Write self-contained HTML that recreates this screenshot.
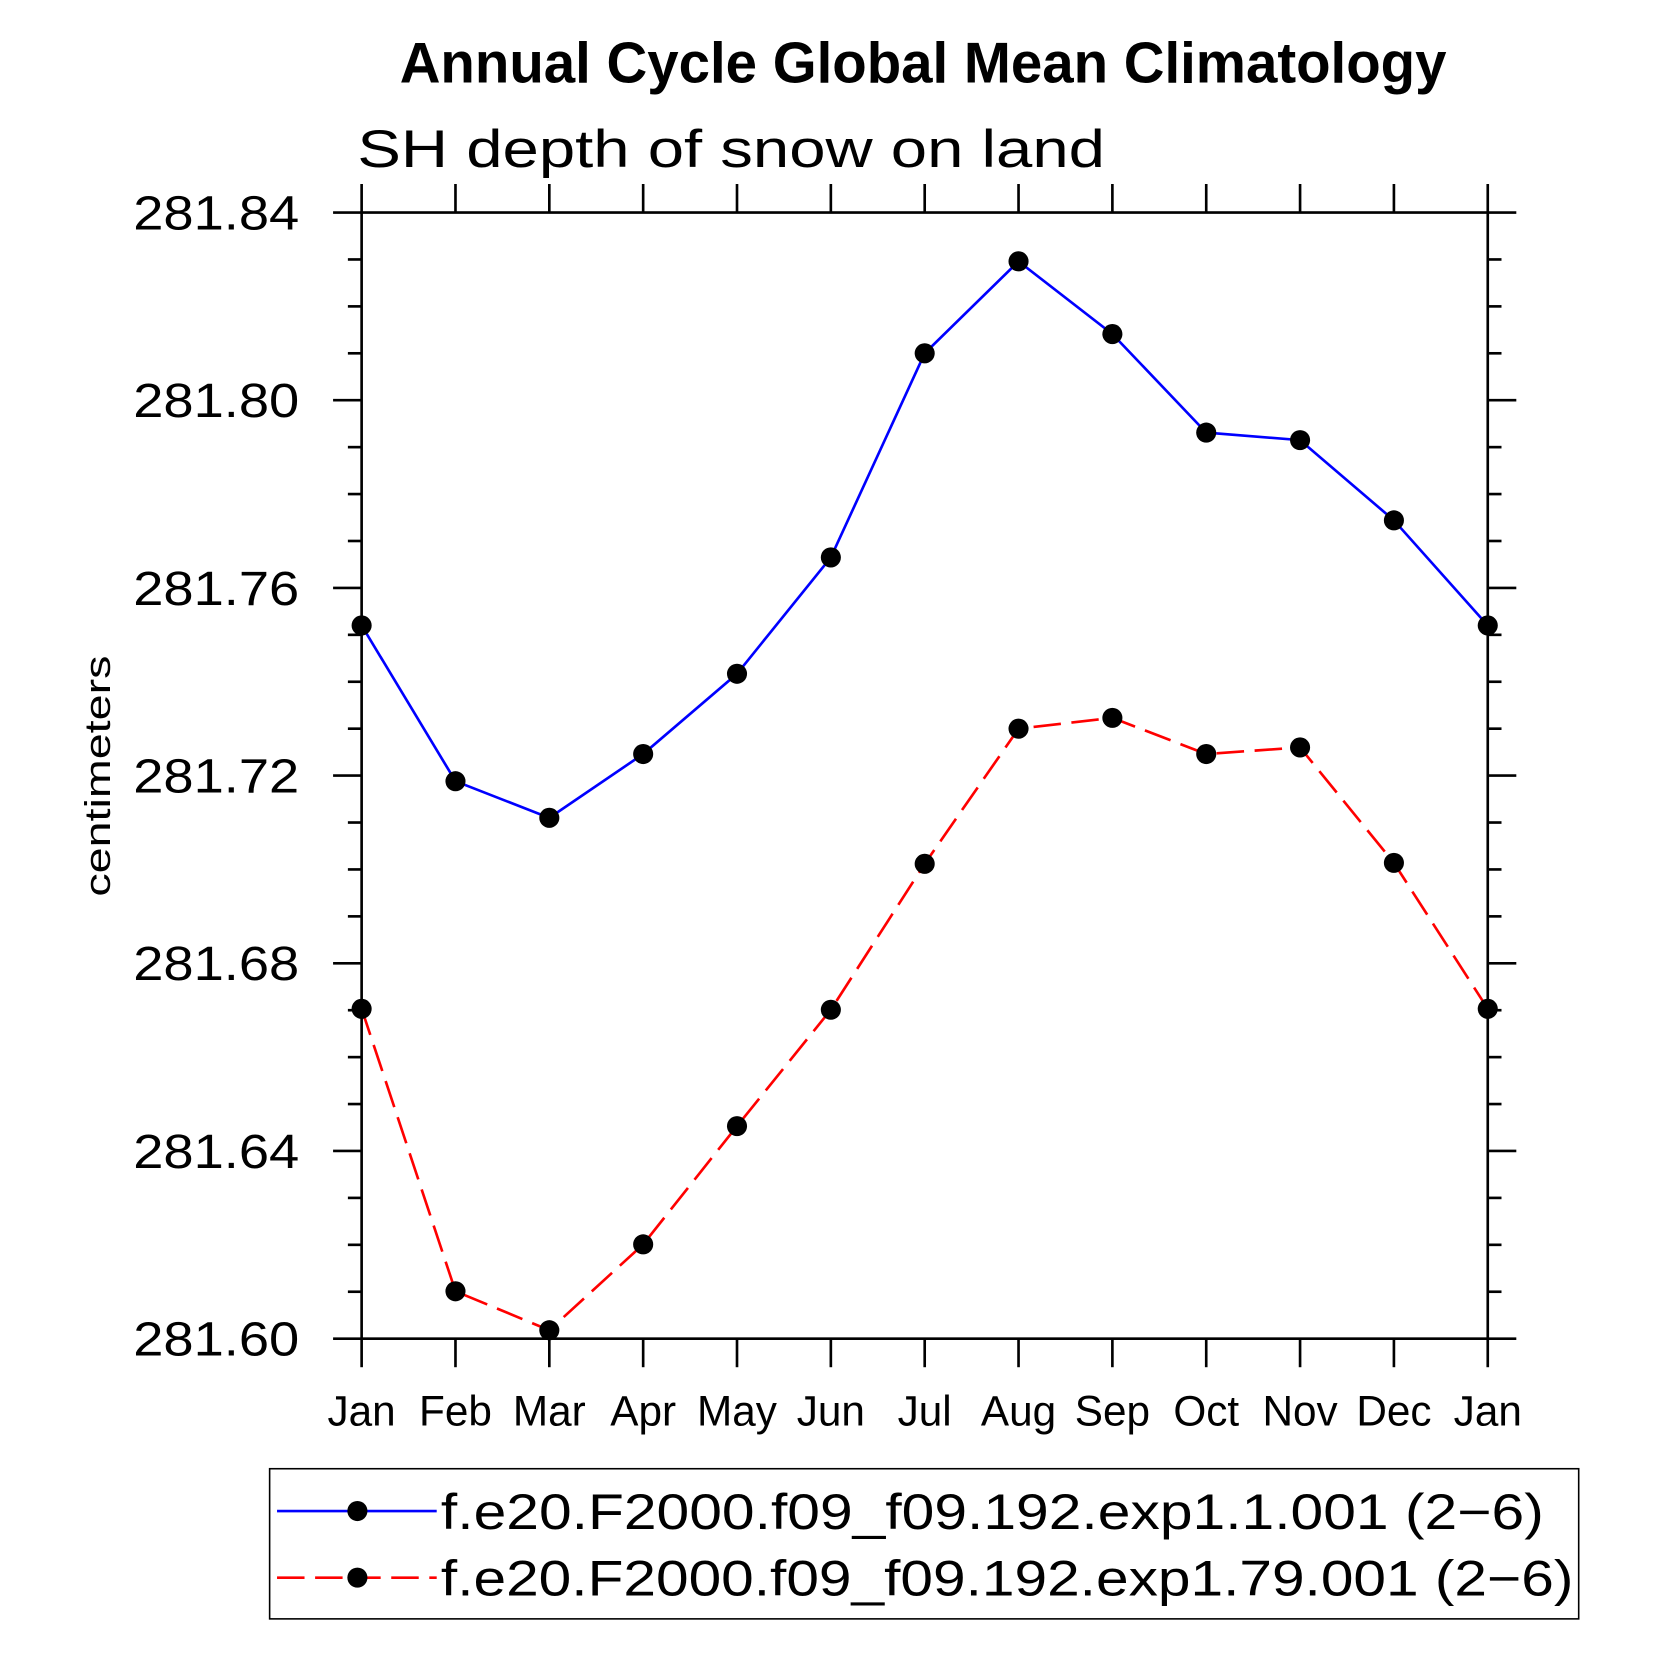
<!DOCTYPE html>
<html><head><meta charset="utf-8"><style>html,body{margin:0;padding:0;background:#fff}svg{display:block}text{font-family:"Liberation Sans",sans-serif}</style></head>
<body>
<svg width="1658" height="1658" viewBox="0 0 1568 1568" xmlns="http://www.w3.org/2000/svg">
<rect width="1568" height="1568" fill="#fff"/>
<text x="378" y="78" font-size="54" font-weight="bold" textLength="990" lengthAdjust="spacingAndGlyphs">Annual Cycle Global Mean Climatology</text>
<text x="338" y="158" font-size="50" textLength="707" lengthAdjust="spacingAndGlyphs">SH depth of snow on land</text>
<text transform="translate(104,734) rotate(-90)" text-anchor="middle" font-size="34" textLength="228" lengthAdjust="spacingAndGlyphs">centimeters</text>
<g id="axes"></g>
<g id="series"></g>
<g>
<rect x="255" y="1389" width="1238" height="142" fill="none" stroke="#000" stroke-width="1.5"/>
<line x1="262" y1="1429" x2="413" y2="1429" stroke="#00f" stroke-width="2.5"/>
<circle cx="338" cy="1429" r="9.5" fill="#000"/>
<text x="417" y="1446" font-size="47" textLength="1043" lengthAdjust="spacingAndGlyphs">f.e20.F2000.f09_f09.192.exp1.1.001 (2−6)</text>
<line x1="262" y1="1492" x2="413" y2="1492" stroke="#f00" stroke-width="2.5" stroke-dasharray="26,10"/>
<circle cx="338" cy="1492" r="9.5" fill="#000"/>
<text x="417" y="1509" font-size="47" textLength="1071" lengthAdjust="spacingAndGlyphs">f.e20.F2000.f09_f09.192.exp1.79.001 (2−6)</text>
</g>
</svg>
<script>
const months = ["Jan","Feb","Mar","Apr","May","Jun","Jul","Aug","Sep","Oct","Nov","Dec","Jan"];
const exp1Values = [281.752,281.7188,281.711,281.7246,281.7417,281.7665,281.810,281.8296,281.8141,281.7931,281.7915,281.7744,281.752];
const exp79Values = [281.6703,281.6101,281.6018,281.6201,281.6453,281.6701,281.7012,281.730,281.7323,281.7246,281.726,281.7014,281.6703];
const yTickLabels = ["281.60","281.64","281.68","281.72","281.76","281.80","281.84"];
const yMin = 281.60, yMax = 281.84;
const L=342,R=1407,T=201,B=1266;
const NS="http://www.w3.org/2000/svg";
function xs(i){return L+(R-L)*i/(months.length-1);}
function ys(v){return B-(v-yMin)/(yMax-yMin)*(B-T);}
function mk(tag,attrs,parent){const e=document.createElementNS(NS,tag);for(const k in attrs)e.setAttribute(k,attrs[k]);parent.appendChild(e);return e;}
const ax=document.getElementById('axes');
const sw=2.5;
const frame=mk('rect',{x:L,y:T,width:R-L,height:B-T,fill:'none',stroke:'#000','stroke-width':sw},ax);


months.forEach((m,i)=>{
  const x=xs(i);
  mk('line',{x1:x,y1:B,x2:x,y2:B+27,stroke:'#000','stroke-width':sw},ax);
  mk('line',{x1:x,y1:T,x2:x,y2:T-27,stroke:'#000','stroke-width':sw},ax);
  const t=mk('text',{x:x,y:1348,'font-size':40,'text-anchor':'middle'},ax);
  
  
  t.textContent=m;
});
for(let k=0;k<=24;k++){
  const v=yMin+k*0.01;const y=ys(v);const major=k%4===0;const len=major?27:13;
  mk('line',{x1:L,y1:y,x2:L-len,y2:y,stroke:'#000','stroke-width':sw},ax);
  mk('line',{x1:R,y1:y,x2:R+len,y2:y,stroke:'#000','stroke-width':sw},ax);
}
yTickLabels.forEach(s=>{
  const y=ys(parseFloat(s));
  const t=mk('text',{x:283,y:y+16,'font-size':46,'text-anchor':'end',textLength:157,lengthAdjust:'spacingAndGlyphs'},ax);
  
  
  t.textContent=s;
});
const sg=document.getElementById('series');
function draw(vals,color,dash,name){
  const p=mk('polyline',{points:vals.map((v,i)=>xs(i)+','+ys(v)).join(' '),fill:'none',stroke:color,'stroke-width':2.5},sg);
  if(dash)p.setAttribute('stroke-dasharray',dash);
  
  
  vals.forEach((v,i)=>{
    const c=mk('circle',{cx:xs(i),cy:ys(v),r:9.5,fill:'#000'},sg);
    
    
  });
}
draw(exp1Values,'#00f',null,'exp1');
draw(exp79Values,'#f00','26,10','exp79');
</script>
</body></html>
